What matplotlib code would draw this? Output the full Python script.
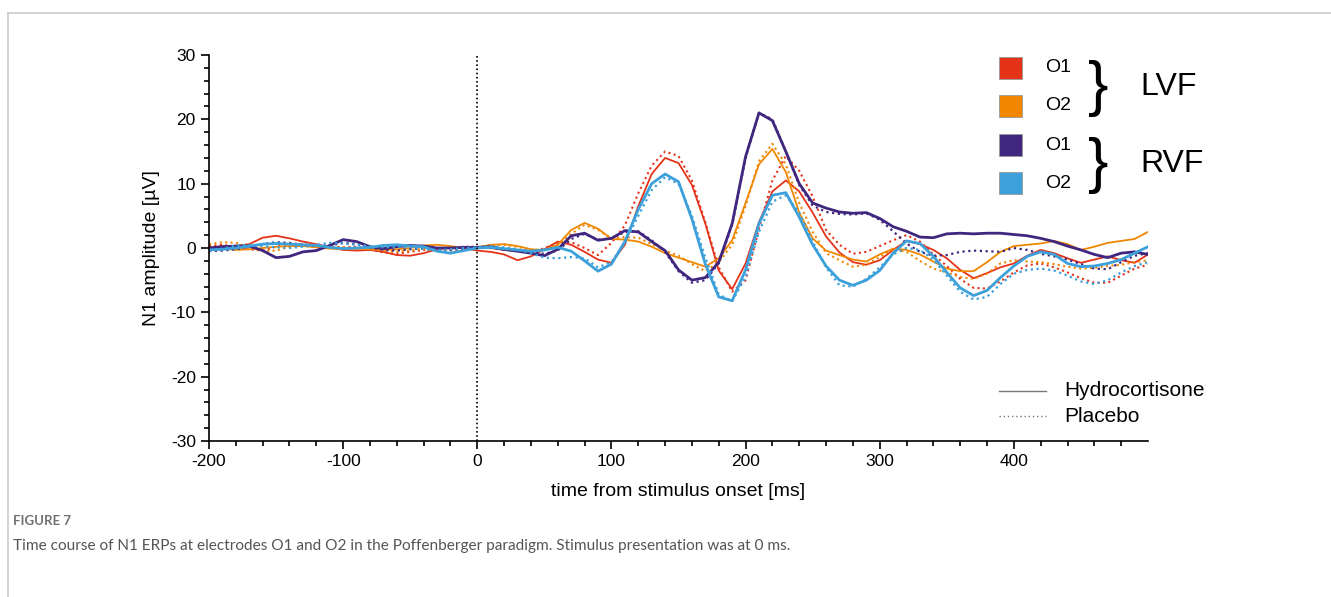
import numpy as np
import matplotlib
matplotlib.use("Agg")
import matplotlib.pyplot as plt
from matplotlib.patches import Rectangle
from matplotlib.lines import Line2D
from matplotlib.ticker import FixedLocator

plt.rcParams['font.family'] = ['Liberation Sans', 'DejaVu Sans']
plt.rcParams['axes.unicode_minus'] = False

# time axis (ms), sampled every 10 ms
times = list(range(-200, 501, 10))

# LVF, electrode O1 (red)
o1_lvf_hydro = [0.0, 0.3, 0.3, 0.6, 1.6, 1.9, 1.5, 1.0, 0.6, 0.1, -0.3, -0.4, -0.3, -0.6, -1.1, -1.2, -0.8, -0.2, 0.1, 0.0, -0.4,
                -0.6, -1.0, -1.9, -1.3, -0.2, 1.0, 0.5, -0.6, -1.8, -2.3, 0.5, 6.5, 11.5, 14.0, 13.2, 9.8, 3.8, -3.5, -6.4, -2.4,
                4.0, 8.8, 10.5, 8.8, 5.5, 1.8, -0.7, -2.2, -2.6, -1.9, -0.3, 1.1, 0.6, -0.3, -1.6, -3.4, -4.7, -3.9, -3.0, -2.4,
                -1.2, -0.3, -0.8, -1.6, -2.3, -1.8, -1.3, -1.9, -2.3, -1.0]
o1_lvf_placebo = [0.3, 0.5, 0.2, -0.2, -0.4, 0.2, 0.6, 0.6, 0.4, 0.2, 0.1, 0.2, -0.2, -0.7, -0.9, -0.6, -0.3, -0.2, 0.0, 0.2, 0.2,
                  0.0, -0.3, -0.5, -0.8, 0.0, 0.7, 0.9, 0.0, -1.1, 0.8, 3.5, 8.5, 12.8, 15.0, 14.3, 10.5, 4.0, -3.0, -6.8, -5.0,
                  3.0, 10.5, 14.3, 12.0, 8.0, 2.8, 0.5, -0.9, -0.6, 0.3, 1.2, 2.0, 1.0, -1.0, -2.8, -4.8, -6.2, -6.3, -5.2, -3.8,
                  -2.7, -2.4, -3.0, -3.8, -4.7, -5.4, -5.4, -4.3, -3.2, -2.6]

# LVF, electrode O2 (orange)
o2_lvf_hydro = [0.2, -0.1, -0.3, -0.2, 0.0, 0.2, 0.3, 0.3, 0.1, -0.1, -0.2, -0.1, -0.2, -0.3, -0.2, 0.0, 0.4, 0.5, 0.3, 0.0, 0.1,
                0.5, 0.6, 0.3, -0.2, -0.3, 0.5, 2.8, 3.9, 3.0, 1.4, 1.3, 1.0, 0.2, -0.8, -1.5, -2.2, -2.9, -1.6, 1.2, 7.0,
                13.0, 15.4, 11.8, 5.5, 1.5, -0.4, -1.1, -1.8, -2.1, -1.0, -0.1, -0.3, -1.0, -2.1, -3.2, -3.6, -3.6, -2.2, -0.6, 0.3,
                0.5, 0.7, 1.1, 0.6, -0.3, 0.2, 0.8, 1.1, 1.4, 2.5]
o2_lvf_placebo = [0.6, 0.9, 0.8, 0.1, -0.5, -0.4, 0.2, 0.4, 0.3, 0.1, 0.1, 0.0, -0.1, -0.4, -0.6, -0.4, -0.1, -0.3, -0.4, -0.2, 0.0,
                  0.4, 0.5, 0.2, -0.3, -0.3, 0.5, 2.2, 3.6, 2.8, 1.5, 1.7, 1.6, 0.6, -0.4, -1.2, -2.5, -3.6, -2.2, 0.5, 6.5,
                  13.5, 16.2, 13.0, 7.0, 2.5, -0.8, -1.9, -2.9, -2.6, -1.4, -0.2, -0.6, -2.0, -3.2, -3.8, -4.5, -4.8, -4.0, -2.4, -1.9,
                  -2.1, -2.2, -2.5, -2.9, -3.2, -3.1, -2.8, -2.6, -2.2, -1.9]

# RVF, electrode O1 (purple)
o1_rvf_hydro = [0.0, 0.2, 0.3, 0.3, -0.4, -1.5, -1.3, -0.6, -0.4, 0.4, 1.3, 1.0, 0.2, -0.1, 0.2, 0.4, 0.3, 0.0, 0.0, 0.1, 0.1,
                0.2, -0.2, -0.5, -0.8, -1.2, -0.2, 1.9, 2.3, 1.2, 1.5, 2.7, 2.5, 1.0, -0.4, -3.4, -5.0, -4.6, -2.2, 3.8, 14.2,
                21.0, 19.8, 15.0, 10.0, 7.0, 6.2, 5.6, 5.4, 5.5, 4.6, 3.3, 2.6, 1.7, 1.6, 2.2, 2.3, 2.2, 2.3, 2.3, 2.1,
                1.9, 1.5, 1.0, 0.3, -0.3, -1.0, -1.5, -0.8, -0.6, -1.0]
o1_rvf_placebo = [-0.5, -0.4, -0.2, 0.2, 0.6, 0.9, 0.8, 0.5, 0.3, 0.4, 0.8, 0.6, 0.1, -0.3, -0.4, -0.2, 0.0, -0.1, -0.3, -0.1, 0.1,
                  0.0, -0.3, -0.4, -0.7, -0.9, -0.4, 1.4, 2.2, 1.3, 1.5, 2.5, 2.6, 1.2, -0.6, -3.6, -5.4, -5.0, -2.4, 3.6, 14.0,
                  21.0, 20.0, 15.0, 9.8, 6.6, 5.6, 5.3, 5.2, 5.4, 4.4, 2.6, 0.7, -0.6, -1.2, -1.1, -0.6, -0.4, -0.5, -0.6, 0.0,
                  -0.3, -0.9, -1.3, -1.8, -2.5, -3.2, -3.3, -2.2, -1.2, -0.8]

# RVF, electrode O2 (blue)
o2_rvf_hydro = [-0.3, -0.2, 0.0, 0.3, 0.6, 0.7, 0.6, 0.5, 0.4, 0.1, -0.1, 0.0, 0.1, 0.4, 0.5, 0.3, 0.2, -0.5, -0.8, -0.4, 0.0,
                0.1, -0.1, -0.3, -0.5, -0.3, 0.1, -0.5, -2.0, -3.6, -2.5, 1.0, 6.0, 10.0, 11.5, 10.3, 4.5, -2.5, -7.6, -8.2, -3.4,
                3.8, 8.2, 8.6, 4.8, 0.5, -2.8, -5.0, -5.8, -5.0, -3.5, -0.8, 1.1, 0.7, -1.3, -3.8, -6.2, -7.4, -6.6, -4.6, -2.8,
                -1.3, -0.6, -1.0, -2.4, -2.9, -2.8, -2.4, -1.8, -0.8, 0.2]
o2_rvf_placebo = [-0.5, -0.1, 0.4, 0.5, 0.3, 0.1, 0.0, 0.2, 0.5, 0.8, 0.7, 0.5, 0.3, 0.1, 0.2, 0.1, -0.2, -0.3, -0.2, 0.0, 0.1,
                  0.3, 0.1, -0.2, -0.8, -1.5, -1.6, -1.4, -1.6, -3.0, -2.2, 0.8, 5.0, 9.0, 11.0, 10.0, 5.0, -1.5, -7.2, -8.3, -4.5,
                  2.5, 7.2, 8.2, 5.5, 1.0, -3.0, -5.8, -6.0, -4.8, -3.0, -1.0, 0.0, -0.3, -1.8, -4.3, -6.8, -8.0, -7.6, -5.6, -4.0,
                  -3.4, -3.2, -3.5, -4.3, -5.2, -5.6, -5.0, -3.8, -2.8, -2.2]

red = '#E5331A'
orange = '#F18700'
purple = '#40267F'
blue = '#3CA0DA'

W, H = 1331, 597
fig = plt.figure(figsize=(W / 100, H / 100), dpi=100)
ax = fig.add_axes([209 / W, 1 - 441 / H, 939 / W, 386 / H])

dot = (0, (1, 1.6))
series = [
    (o1_lvf_hydro, red, '-', 1.3),
    (o1_lvf_placebo, red, dot, 1.5),
    (o2_lvf_hydro, orange, '-', 1.3),
    (o2_lvf_placebo, orange, dot, 1.5),
    (o1_rvf_hydro, purple, '-', 2.0),
    (o1_rvf_placebo, purple, dot, 1.6),
    (o2_rvf_hydro, blue, '-', 2.0),
    (o2_rvf_placebo, blue, dot, 1.6),
]
for vals, col, ls, lw in series:
    ax.plot(times, vals, color=col, linestyle=ls, linewidth=lw,
            solid_joinstyle='round', solid_capstyle='round')

# stimulus onset
ax.plot([0, 0], [-30, 30], color='black', linestyle=(0, (1, 1.5)), linewidth=1.2)

ax.set_xlim(-200, 500)
ax.set_ylim(-30, 30)
for s in ['top', 'right']:
    ax.spines[s].set_visible(False)
for s in ['left', 'bottom']:
    ax.spines[s].set_linewidth(1.2)
ax.set_xticks(range(-200, 401, 100))
ax.set_yticks(range(-30, 31, 10))
ax.xaxis.set_minor_locator(FixedLocator([t for t in range(-200, 500, 20) if t % 100 != 0]))
ax.yaxis.set_minor_locator(FixedLocator([v for v in range(-30, 31, 2) if v % 10 != 0]))
ax.tick_params(which='major', length=6, width=1.2, labelsize=12.5, direction='out')
ax.tick_params(which='minor', length=3.5, width=1.2, direction='out')
ax.set_xlabel('time from stimulus onset [ms]', fontsize=14, labelpad=10)
ax.set_ylabel('N1 amplitude [µV]', fontsize=14, labelpad=8)


def fx(px):
    return px / W


def fy(py):
    return 1 - py / H


# colour legend
legend_rows = [(red, 'O1', 68), (orange, 'O2', 106), (purple, 'O1', 145), (blue, 'O2', 183)]
for col, lab, yc in legend_rows:
    fig.add_artist(Rectangle((fx(999), fy(yc + 11)), 23 / W, 22 / H, transform=fig.transFigure,
                             facecolor=col, edgecolor='#999999', linewidth=0.6))
    fig.text(fx(1045), fy(yc), lab, fontsize=14, va='center', ha='left')
for yc, lab in [(87, 'LVF'), (164, 'RVF')]:
    fig.text(fx(1088), fy(yc + 2), '}', fontsize=44, va='center', ha='left')
    fig.text(fx(1140), fy(yc), lab, fontsize=23, va='center', ha='left')

# line style legend
fig.add_artist(Line2D([fx(999), fx(1046)], [fy(391), fy(391)], color='#777777', linewidth=1.0))
fig.add_artist(Line2D([fx(999), fx(1046)], [fy(416), fy(416)], color='#777777', linewidth=1.0,
                      linestyle=(0, (1, 2))))
fig.text(fx(1064), fy(391), 'Hydrocortisone', fontsize=15, va='center', ha='left')
fig.text(fx(1064), fy(416), 'Placebo', fontsize=15, va='center', ha='left')

# frame around the figure panel
fig.add_artist(Line2D([fx(8), fx(8)], [0, fy(13)], color='#cccccc', linewidth=1.2))
fig.add_artist(Line2D([fx(8), 1], [fy(13), fy(13)], color='#cccccc', linewidth=1.2))

# caption
fig.text(fx(13), fy(521), 'FIGURE 7', fontsize=9.5, color='#707070', va='center', ha='left',
         family=['Lato', 'DejaVu Sans'], fontweight='bold')
fig.text(fx(13), fy(546), 'Time course of N1 ERPs at electrodes O1 and O2 in the Poffenberger paradigm. '
         'Stimulus presentation was at 0 ms.', fontsize=11.1, color='#555555', va='center', ha='left',
         family=['Lato', 'DejaVu Sans'])

fig.savefig('out.png', dpi=100)
